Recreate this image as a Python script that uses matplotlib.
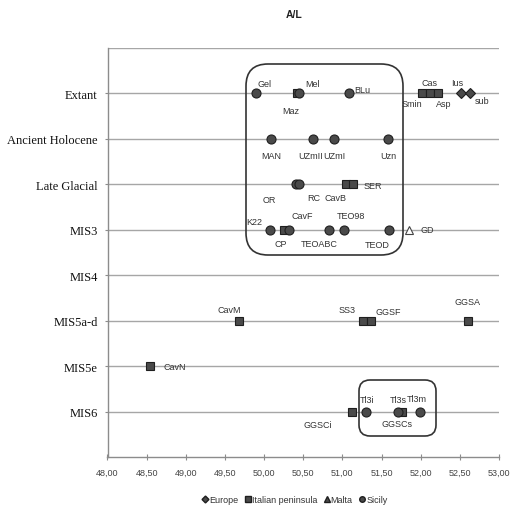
import matplotlib
matplotlib.use("Agg")
import matplotlib.pyplot as plt
from matplotlib.patches import FancyBboxPatch
from matplotlib.transforms import IdentityTransform
from matplotlib.lines import Line2D

# ---------------- data ----------------
categories = ["MIS6", "MIS5e", "MIS5a-d", "MIS4", "MIS3", "Late Glacial",
              "Ancient Holocene", "Extant"]
cat_pos = {c: i + 1 for i, c in enumerate(categories)}

europe_names = ["Ius", "sub"]
europe_x = [52.52, 52.63]
europe_cat = ["Extant", "Extant"]

italy_names = ["Maz", "Smin", "Cas", "Asp", "CavB", "SER", "CP",
               "CavM", "SS3", "GGSF", "GGSA", "CavN", "GGSCi", "GGSCs"]
italy_x = [50.42, 52.02, 52.12, 52.22, 51.05, 51.13, 50.26,
           49.68, 51.26, 51.36, 52.60, 48.54, 51.12, 51.76]
italy_cat = ["Extant", "Extant", "Extant", "Extant", "Late Glacial", "Late Glacial", "MIS3",
             "MIS5a-d", "MIS5a-d", "MIS5a-d", "MIS5a-d", "MIS5e", "MIS6", "MIS6"]

malta_names = ["GD"]
malta_x = [51.85]
malta_cat = ["MIS3"]

sicily_names = ["Gel", "Mel", "BLu", "MAN", "UZmII", "UZmI", "Uzn", "OR", "RC",
                "K22", "CavF", "TEOABC", "TEO98", "TEOD", "Tl3i", "Tl3s", "Tl3m"]
sicily_x = [49.90, 50.44, 51.09, 50.09, 50.62, 50.89, 51.58, 50.41, 50.45,
            50.07, 50.32, 50.83, 51.02, 51.60, 51.30, 51.71, 51.99]
sicily_cat = ["Extant", "Extant", "Extant", "Ancient Holocene", "Ancient Holocene",
              "Ancient Holocene", "Ancient Holocene", "Late Glacial", "Late Glacial",
              "MIS3", "MIS3", "MIS3", "MIS3", "MIS3", "MIS6", "MIS6", "MIS6"]

x_ticks = [48.0, 48.5, 49.0, 49.5, 50.0, 50.5, 51.0, 51.5, 52.0, 52.5, 53.0]

# label offsets (pixels) relative to markers
label_off = {
    "Gel": (8, 10), "Mel": (14, 10), "Maz": (-6, -17), "BLu": (13, 4),
    "Cas": (-1, 11), "Smin": (-10, -10), "Asp": (6, -10), "Ius": (-4, 11), "sub": (12, -7),
    "MAN": (0, -17), "UZmII": (-2, -17), "UZmI": (1, -17), "Uzn": (0, -17),
    "OR": (-27, -15), "RC": (14, -13), "CavB": (-11, -13), "SER": (20, -1),
    "K22": (-15, 8), "CP": (-4, -14), "CavF": (13, 14), "TEOABC": (-10, -14),
    "TEO98": (7, 14), "TEOD": (-12, -15), "GD": (18, 0),
    "CavM": (-10, 11), "SS3": (-16, 11), "GGSF": (18, 9), "GGSA": (0, 19),
    "CavN": (25, 0),
    "GGSCi": (-34, -13), "Tl3i": (1, 12), "Tl3s": (0, 12), "Tl3m": (-3, 13), "GGSCs": (-5, -12),
}

# ---------------- figure ----------------
fig = plt.figure(figsize=(5.11, 5.10), dpi=100)
ax = fig.add_axes([107.5 / 511, 52 / 510, (499 - 107.5) / 511, (458 - 49) / 510])
ax.set_xlim(48, 53)
ax.set_ylim(0, 9)

grid_c = "#a6a6a6"
for c in categories:
    ax.axhline(cat_pos[c], color=grid_c, lw=1.0, zorder=1)
ax.axhline(9, color=grid_c, lw=1.0, zorder=1)

for s in ["top", "right"]:
    ax.spines[s].set_visible(False)
for s in ["left", "bottom"]:
    ax.spines[s].set_color("#8c8c8c")
    ax.spines[s].set_linewidth(1.0)

ax.set_yticks([cat_pos[c] for c in categories])
ax.set_yticklabels(categories, family="Liberation Serif", fontsize=9, color="#111111")
ax.tick_params(axis="y", length=2, color="#8c8c8c", pad=5)
ax.set_xticks(x_ticks)
ax.set_xticklabels([f"{v:.2f}".replace(".", ",") for v in x_ticks],
                   family="Liberation Sans", fontsize=6.5, color="#444444")
ax.tick_params(axis="x", length=4, direction="inout", color="#8c8c8c", pad=6)

fill = "#4a4a4a"
edge = "#1f1f1f"
lab_kw = dict(fontsize=6.5, family="Liberation Sans", color="#333333",
              ha="center", va="center", textcoords="offset pixels", zorder=5)


def draw(names, xs, cats, marker, ms, fc, ec):
    ys = [cat_pos[c] for c in cats]
    ax.plot(xs, ys, ls="none", marker=marker, ms=ms, mfc=fc, mec=ec, mew=0.8, zorder=3)
    for n, x, y in zip(names, xs, ys):
        dx, dy = label_off[n]
        ax.annotate(n, (x, y), xytext=(dx, dy), **lab_kw)


draw(italy_names, italy_x, italy_cat, "s", 6.0, fill, edge)
draw(sicily_names, sicily_x, sicily_cat, "o", 6.5, fill, edge)
draw(europe_names, europe_x, europe_cat, "D", 4.8, fill, edge)
draw(malta_names, malta_x, malta_cat, "^", 6.0, "white", "#444444")

# rounded frames (display pixels)
H = 510
big = FancyBboxPatch((246, H - 256), 403 - 246, 256 - 65,
                     boxstyle="round,pad=0,rounding_size=22",
                     transform=IdentityTransform(), fill=False, ec="#333333", lw=1.2,
                     clip_on=False, zorder=4)
small = FancyBboxPatch((359, H - 437), 436 - 359, 437 - 381,
                       boxstyle="round,pad=0,rounding_size=11",
                       transform=IdentityTransform(), fill=False, ec="#333333", lw=1.2,
                       clip_on=False, zorder=4)
fig.add_artist(big)
fig.add_artist(small)

fig.text(294 / 511, 1 - 15 / 510, "A/L", ha="center", va="center",
         fontsize=7.5, fontweight="bold", family="Liberation Sans", color="#222222")

handles = [
    Line2D([], [], ls="none", marker="D", ms=3.5, mfc=fill, mec=edge, label="Europe"),
    Line2D([], [], ls="none", marker="s", ms=4, mfc=fill, mec=edge, label="Italian peninsula"),
    Line2D([], [], ls="none", marker="^", ms=4, mfc=fill, mec=edge, label="Malta"),
    Line2D([], [], ls="none", marker="o", ms=4, mfc=fill, mec=edge, label="Sicily"),
]
fig.legend(handles=handles, loc="center", bbox_to_anchor=(295 / 511, 1 - 501 / 510),
           ncol=4, frameon=False, handlelength=0.6, handletextpad=0.1,
           columnspacing=0.8, prop=dict(family="Liberation Sans", size=6.5),
           labelcolor="#333333")

fig.savefig("out.png", dpi=100)
